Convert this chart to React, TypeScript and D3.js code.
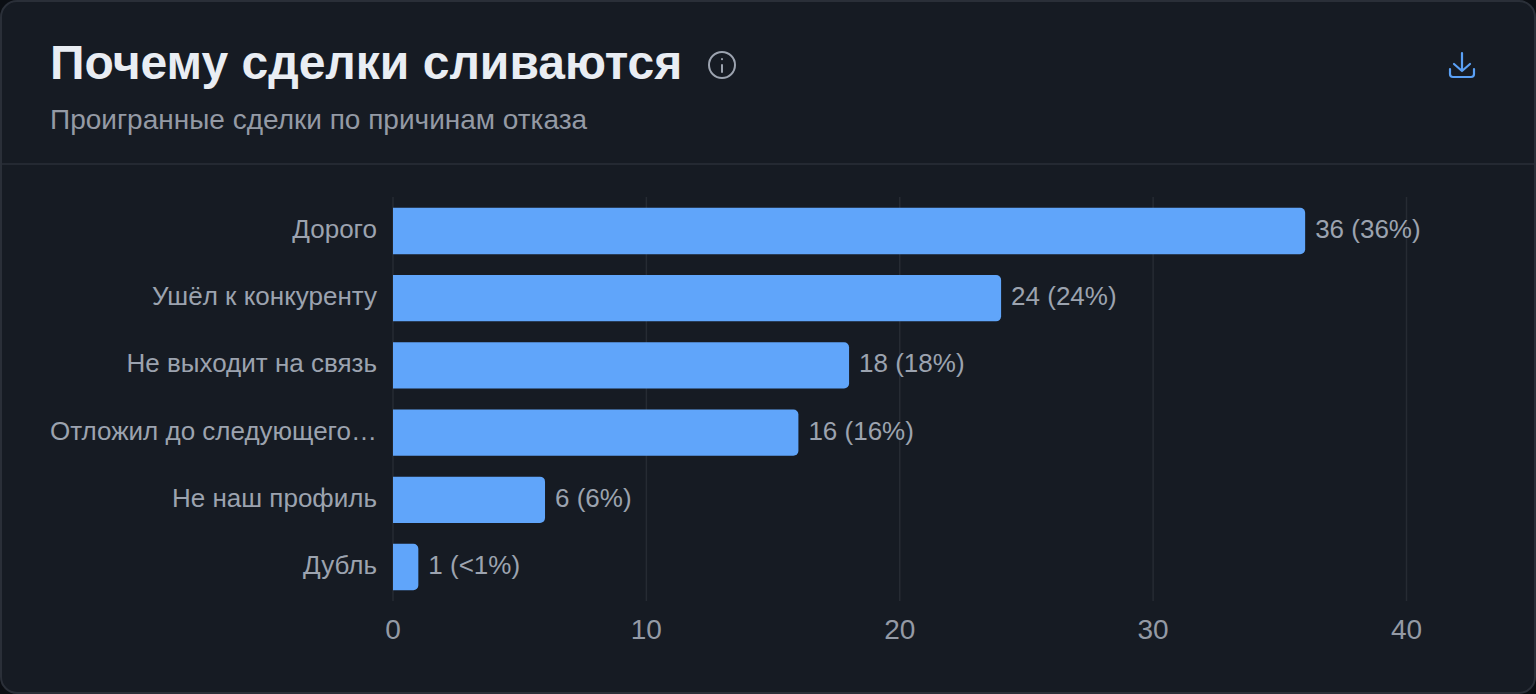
import * as d3 from "d3";

const reasons = ["Дорого", "Ушёл к конкуренту", "Не выходит на связь", "Отложил до следующего…", "Не наш профиль", "Дубль"];
const counts = [36, 24, 18, 16, 6, 1];
const shares = ["36%", "24%", "18%", "16%", "6%", "<1%"];
const ticks = [0, 10, 20, 30, 40];

const W = 1536, H = 694;
const sans = "Liberation Sans, Arial, sans-serif";

const x = d3.scaleLinear().domain([0, 40]).range([393, 1406.5]);
const y = d3.scaleBand<number>().domain(d3.range(reasons.length)).range([197, 601]).paddingInner(0.31).paddingOuter(0.16);

// rect with only the right corners rounded
function barPath(x0: number, x1: number, y0: number, h: number, r = 5) {
  const p = d3.path();
  p.moveTo(x0, y0);
  p.lineTo(x1 - r, y0);
  p.arcTo(x1, y0, x1, y0 + r, r);
  p.lineTo(x1, y0 + h - r);
  p.arcTo(x1, y0 + h, x1 - r, y0 + h, r);
  p.lineTo(x0, y0 + h);
  p.closePath();
  return p.toString();
}

export default function App() {
  return (
    <svg width={W} height={H} viewBox={`0 0 ${W} ${H}`} style={{ position: "fixed", left: 0, top: 0, display: "block" }}>
      <rect width={W} height={H} fill="#0b0e13" />
      <rect x={1} y={1} width={W - 2} height={H - 2} rx={16} fill="#161b23" stroke="#2a2f38" strokeWidth={2} />
      <text x={50} y={79} fontFamily={sans} fontWeight={700} fontSize={48} fill="#e9edf3">Почему сделки сливаются</text>
      <text x={50} y={129} fontFamily={sans} fontSize={28} fill="#949aa5">Проигранные сделки по причинам отказа</text>
      <line x1={2} x2={W - 2} y1={164} y2={164} stroke="#2a2f38" strokeWidth={1.5} />

      <g fill="none" stroke="#9ca3af" strokeWidth={2} strokeLinecap="round">
        <circle cx={722} cy={65} r={13} />
        <line x1={722} x2={722} y1={65} y2={72} />
        <line x1={722} x2={722} y1={59} y2={59.2} />
      </g>
      <g fill="none" stroke="#5aa0f5" strokeWidth={2.2} strokeLinecap="round" strokeLinejoin="round">
        <path d="M1462 53v18M1454 64l8 7 8-7M1450 69v5a3 3 0 0 0 3 3h18a3 3 0 0 0 3-3v-5" />
      </g>

      {ticks.map((t) => (
        <g key={t}>
          <line x1={x(t)} x2={x(t)} y1={197} y2={601} stroke="#262b33" strokeWidth={1.5} />
          <text x={x(t)} y={639} textAnchor="middle" fontFamily={sans} fontSize={28} fill="#949aa5">{t}</text>
        </g>
      ))}

      {reasons.map((r, i) => (
        <g key={r}>
          <path d={barPath(x(0), x(counts[i]), y(i)!, y.bandwidth())} fill="#60a5fa" />
          <text x={377} y={y(i)! + y.bandwidth() / 2 + 7} textAnchor="end" fontFamily={sans} fontSize={26} fill="#9ca3af">{r}</text>
          <text x={x(counts[i]) + 10} y={y(i)! + y.bandwidth() / 2 + 7} fontFamily={sans} fontSize={26} fill="#9ca3af">{`${counts[i]} (${shares[i]})`}</text>
        </g>
      ))}
    </svg>
  );
}
